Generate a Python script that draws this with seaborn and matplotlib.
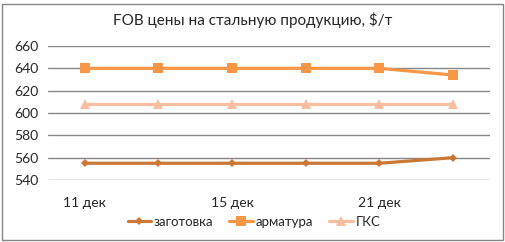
import matplotlib
matplotlib.use("Agg")
import matplotlib.pyplot as plt
import seaborn as sns
import pandas as pd
from matplotlib.patches import Rectangle

dates = ["11 дек", "13 дек", "15 дек", "18 дек", "21 дек", "22 дек"]
zagotovka = [555, 555, 555, 555, 555, 560]
armatura = [640, 640, 640, 640, 640, 634]
gks = [608, 608, 608, 608, 608, 608]
series_names = ["заготовка", "арматура", "ГКС"]
yticks = [540, 560, 580, 600, 620, 640, 660]

sns.set_theme(style="white")
plt.rcParams["font.family"] = ["Lato", "DejaVu Sans"]

rows = []
for name, vals in zip(series_names, [zagotovka, armatura, gks]):
    for i, (d, v) in enumerate(zip(dates, vals)):
        rows.append({"idx": i, "date": d, "series": name, "value": v})
df = pd.DataFrame(rows)

fig = plt.figure(figsize=(5.06, 2.42), dpi=100)
ax = fig.add_axes([48/506, 1 - 180/242, (490-48)/506, (180-46)/242])

colors = {"заготовка": "#CB7736", "арматура": "#F79646", "ГКС": "#F9BEA0"}
markers = {"заготовка": "D", "арматура": "s", "ГКС": "^"}
msize = {"заготовка": 4, "арматура": 6.5, "ГКС": 6.5}

for name in series_names:
    sub = df[df.series == name]
    sns.lineplot(data=sub, x="idx", y="value", ax=ax, color=colors[name],
                 marker=markers[name], markersize=msize[name], linewidth=2.3,
                 markeredgewidth=0, label=name, zorder=3)

ax.set_xlim(-0.5, len(dates) - 0.5)
ax.set_ylim(540, 660)
ax.set_yticks(yticks)
ax.set_yticklabels([str(t) for t in yticks], fontsize=10)
ax.set_xticks([0, 2, 4])
ax.set_xticklabels([dates[0], dates[2], dates[4]], fontsize=10)
ax.tick_params(axis="x", length=0, pad=12)
ax.tick_params(axis="y", length=0, pad=7)
ax.grid(axis="y", color="#868686", linewidth=1)
ax.set_axisbelow(True)
for s in ax.spines.values():
    s.set_visible(False)
ax.set_xlabel("")
ax.set_ylabel("")

leg = ax.legend(loc="upper center", bbox_to_anchor=(0.466, -0.18), ncol=3,
                frameon=False, fontsize=9.5, handlelength=1.8,
                handletextpad=0.2, columnspacing=1.2)

fig.text(0.5, 1 - 20/242, "FOB цены на стальную продукцию, $/т",
         ha="center", va="center", fontsize=11)

fig.patches.append(Rectangle((2/506, 2/242), 501/506, 236/242,
                             transform=fig.transFigure, fill=False,
                             edgecolor="#868686", linewidth=1))

fig.savefig("out.png", dpi=100)
